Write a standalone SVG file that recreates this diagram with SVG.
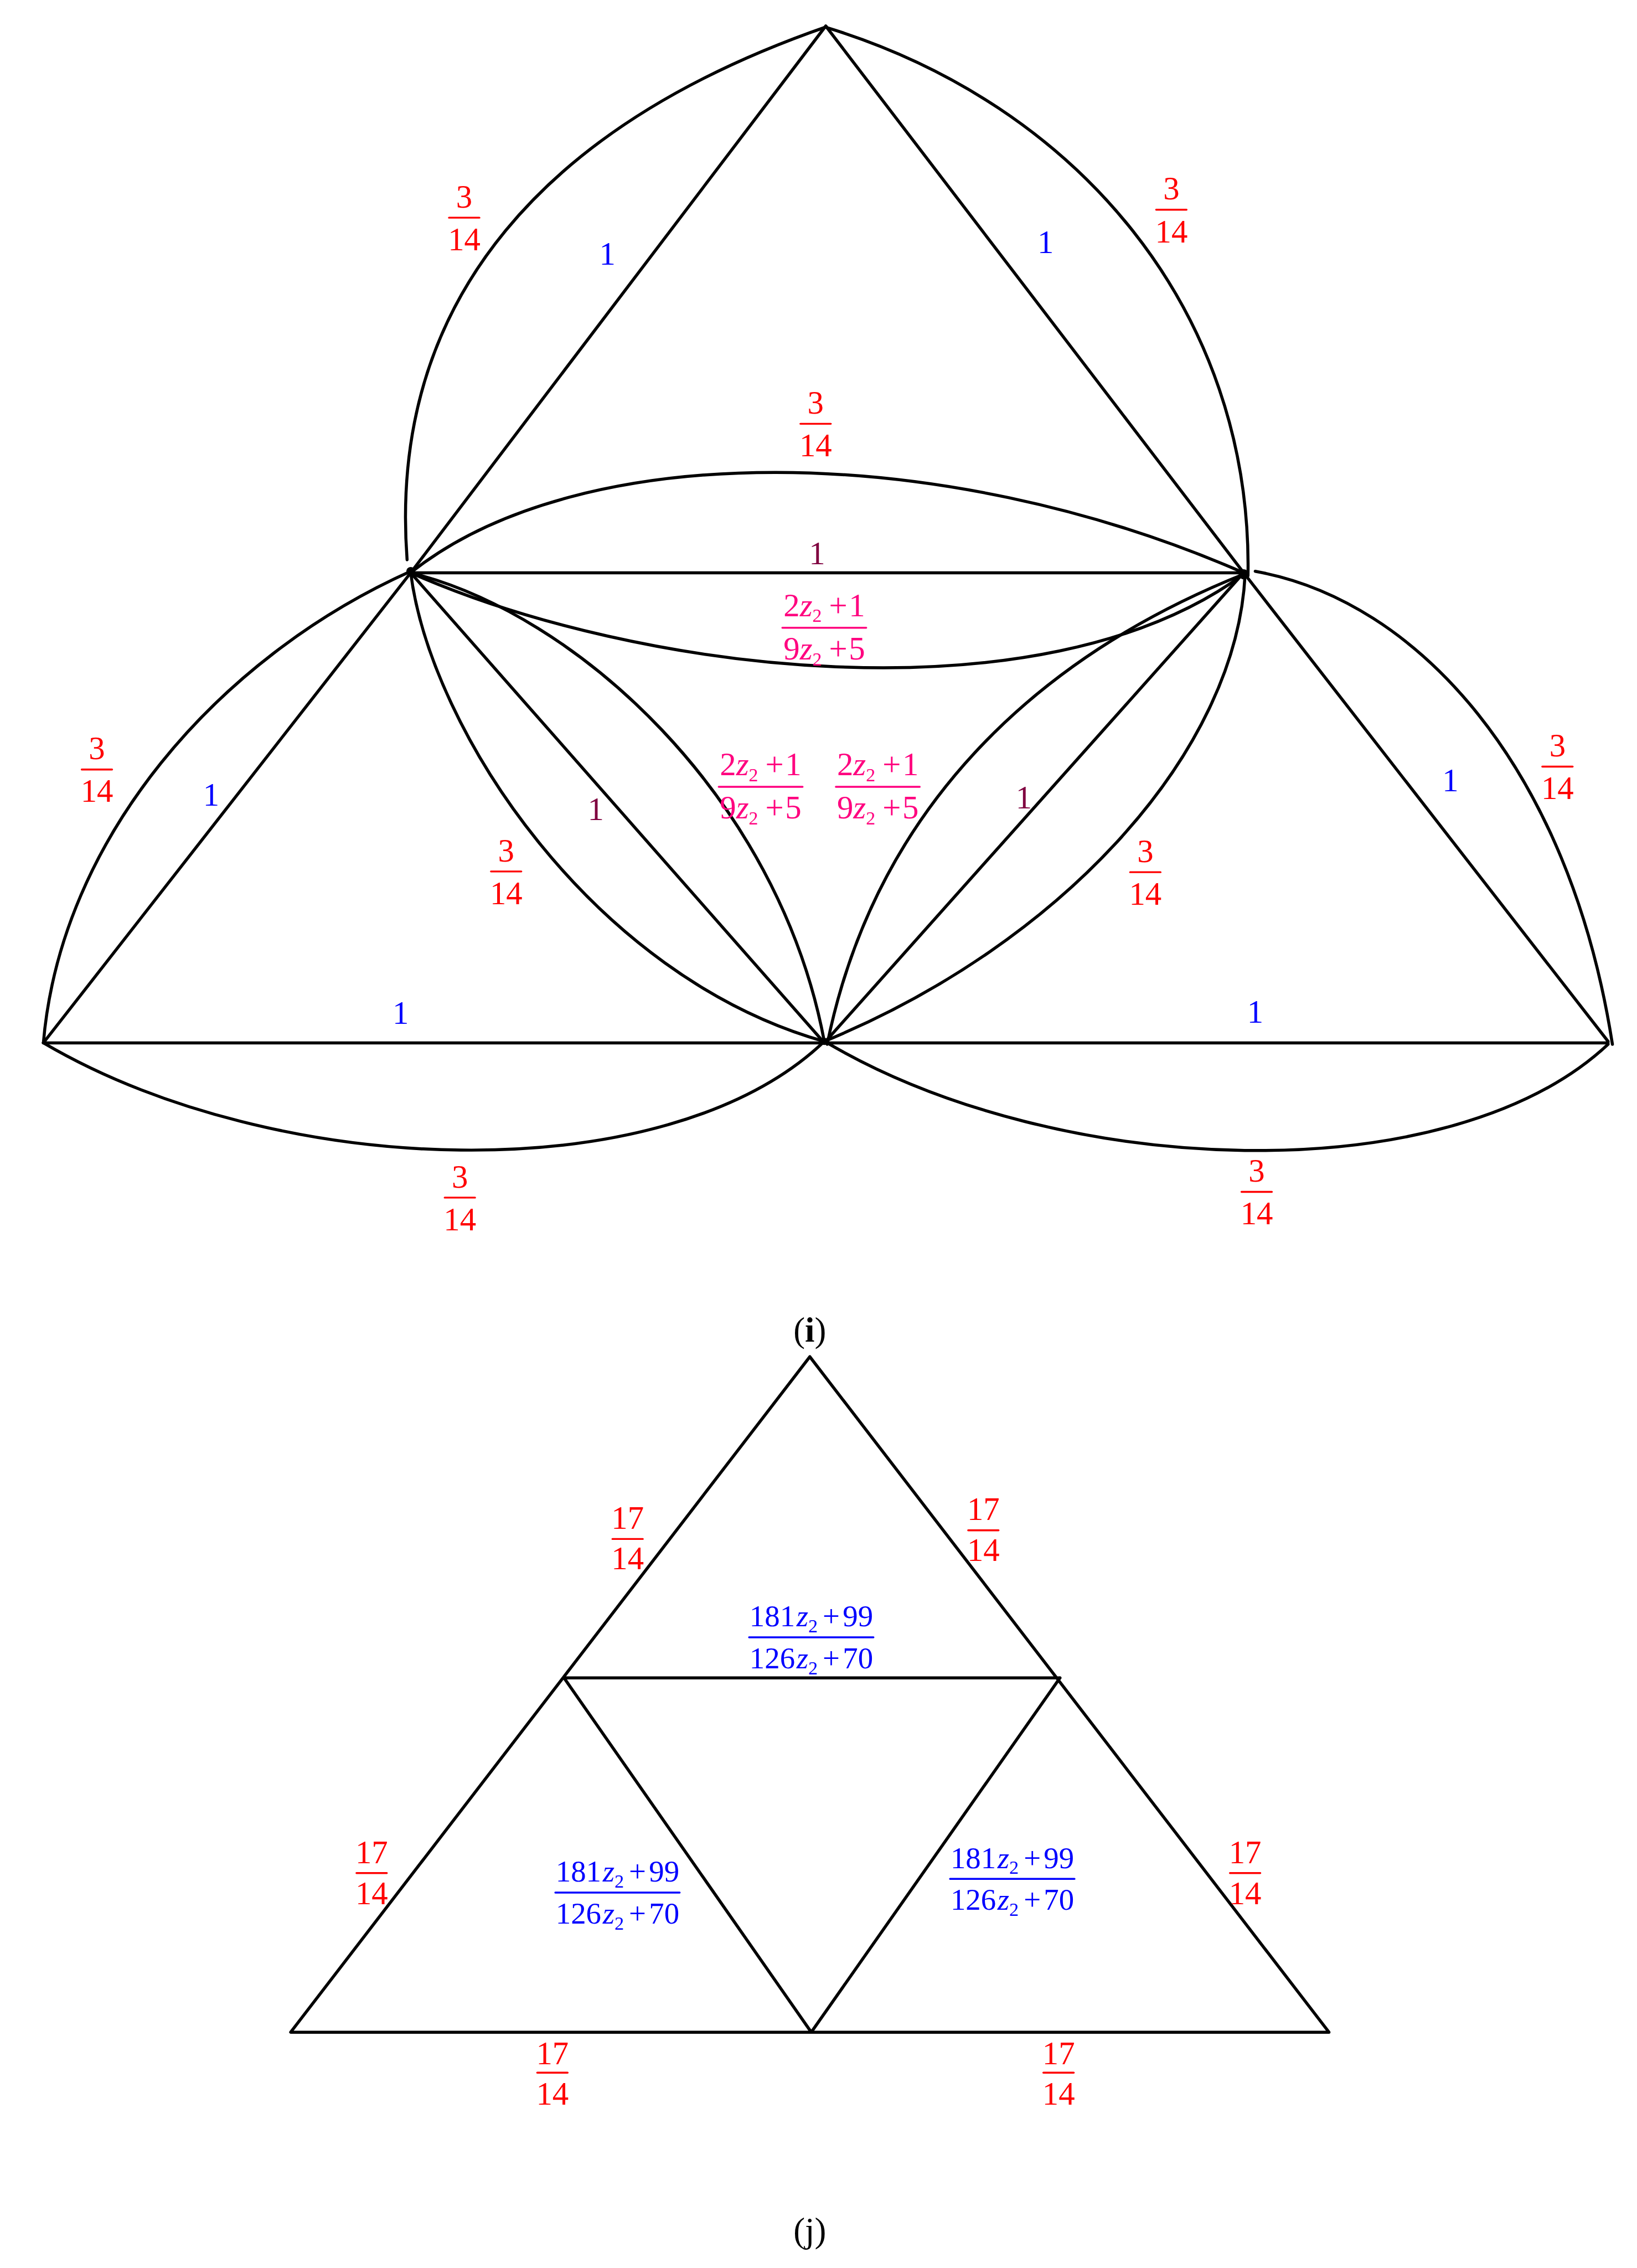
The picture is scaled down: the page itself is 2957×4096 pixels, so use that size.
<svg xmlns="http://www.w3.org/2000/svg" width="2957" height="4096" viewBox="0 0 2957 4096">
<defs><style>
text{font-family:"Liberation Serif","Times New Roman",serif;font-size:22.5px;text-anchor:middle}
.e{fill:none;stroke:#000;stroke-width:2.1;stroke-linecap:round;stroke-linejoin:round}
.r{fill:#f00}.b{fill:#00f;font-size:21px}.o{fill:#00f}.p{fill:#ff007f}.m{fill:#7f003f}.k{fill:#000;font-size:24px}
.rl{stroke:#f00;stroke-width:1.3}.bl{stroke:#00f;stroke-width:1.3}.pl{stroke:#ff007f;stroke-width:1.3}
.i{font-style:italic}.s{font-size:13px}
</style></defs>
<rect width="2957" height="4096" fill="#fff"/>
<g transform="scale(2.6122)">
<g id="connectors">
<g id="edges-i">
<path class="e" d="M571 18L284 396M571 18L860 396M284 396H860M284 396L570 721M860 396L570 721M284 396L30 721M30 721H1112M860 396L1112 720"/>
<path class="e" d="M571.500 18.500C380 85 268 205 281.500 387"/>
<path class="e" d="M571.500 19C745 72 866 215 863 398"/>
<path class="e" d="M284 396C400 303 650 304 860 396"/>
<path class="e" d="M284 396C440 465 720 500 860 397"/>
<path class="e" d="M30 721C42 580 150 455 284 395"/>
<path class="e" d="M284 396C298 505 410 675 570 720"/>
<path class="e" d="M284 396C398 424 538 550 570 720"/>
<path class="e" d="M860 397C715 455 605 560 572 722"/>
<path class="e" d="M861 397C855 520 735 652 570 720"/>
<path class="e" d="M868 395C980 415 1085 530 1115 722"/>
<path class="e" d="M30 721C190 815 460 825 570 720"/>
<path class="e" d="M572 721C732 815 1002 825 1112 722"/>
</g>
<g id="edges-j">
<path class="e" d="M560 938L201 1405H919ZM390 1160H733M390 1160L561 1405L733 1160"/>
</g>
</g>
<g id="vertices">
<circle id="vertex-l" cx="284" cy="395" r="3"/>
<circle id="vertex-r" cx="860" cy="397" r="3.500"/>
<circle id="vertex-c" cx="570" cy="720" r="2.500"/>
</g>
<g id="labels-i">
<g transform="translate(321 150.500)"><text class="r" y="-7">3</text><path class="e rl" d="M-10.500 0H10.500"/><text class="r" y="22.500">14</text></g>
<g transform="translate(810 145)"><text class="r" y="-7">3</text><path class="e rl" d="M-10.500 0H10.500"/><text class="r" y="22.500">14</text></g>
<g transform="translate(564 293)"><text class="r" y="-7">3</text><path class="e rl" d="M-10.500 0H10.500"/><text class="r" y="22.500">14</text></g>
<g transform="translate(67 532)"><text class="r" y="-7">3</text><path class="e rl" d="M-10.500 0H10.500"/><text class="r" y="22.500">14</text></g>
<g transform="translate(350 602.500)"><text class="r" y="-7">3</text><path class="e rl" d="M-10.500 0H10.500"/><text class="r" y="22.500">14</text></g>
<g transform="translate(792 603)"><text class="r" y="-7">3</text><path class="e rl" d="M-10.500 0H10.500"/><text class="r" y="22.500">14</text></g>
<g transform="translate(1077 530)"><text class="r" y="-7">3</text><path class="e rl" d="M-10.500 0H10.500"/><text class="r" y="22.500">14</text></g>
<g transform="translate(318 828)"><text class="r" y="-7">3</text><path class="e rl" d="M-10.500 0H10.500"/><text class="r" y="22.500">14</text></g>
<g transform="translate(869 824)"><text class="r" y="-7">3</text><path class="e rl" d="M-10.500 0H10.500"/><text class="r" y="22.500">14</text></g>
<text class="o" x="420" y="183">1</text>
<text class="o" x="723" y="175">1</text>
<text class="o" x="146" y="557">1</text>
<text class="o" x="1003" y="547">1</text>
<text class="o" x="277" y="708">1</text>
<text class="o" x="868" y="707">1</text>
<text class="m" x="565" y="390">1</text>
<text class="m" x="412" y="567">1</text>
<text class="m" x="708" y="559">1</text>
<g transform="translate(570 434)"><text class="p" y="-8">2<tspan class="i">z</tspan><tspan class="s" dy="4">2</tspan><tspan dx="5" dy="-4">+</tspan><tspan dx="1">1</tspan></text><path class="e pl" d="M-29 0H29"/><text class="p" y="22">9<tspan class="i">z</tspan><tspan class="s" dy="4">2</tspan><tspan dx="5" dy="-4">+</tspan><tspan dx="1">5</tspan></text></g>
<g transform="translate(526 544)"><text class="p" y="-8">2<tspan class="i">z</tspan><tspan class="s" dy="4">2</tspan><tspan dx="5" dy="-4">+</tspan><tspan dx="1">1</tspan></text><path class="e pl" d="M-29 0H29"/><text class="p" y="22">9<tspan class="i">z</tspan><tspan class="s" dy="4">2</tspan><tspan dx="5" dy="-4">+</tspan><tspan dx="1">5</tspan></text></g>
<g transform="translate(607 544)"><text class="p" y="-8">2<tspan class="i">z</tspan><tspan class="s" dy="4">2</tspan><tspan dx="5" dy="-4">+</tspan><tspan dx="1">1</tspan></text><path class="e pl" d="M-29 0H29"/><text class="p" y="22">9<tspan class="i">z</tspan><tspan class="s" dy="4">2</tspan><tspan dx="5" dy="-4">+</tspan><tspan dx="1">5</tspan></text></g>
<text class="k" x="560" y="927.500">(<tspan font-weight="bold">i</tspan>)</text>
</g>
<g id="labels-j">
<g transform="translate(434 1064)"><text class="r" y="-7">17</text><path class="e rl" d="M-10.500 0H10.500"/><text class="r" y="21">14</text></g>
<g transform="translate(680 1058)"><text class="r" y="-7">17</text><path class="e rl" d="M-10.500 0H10.500"/><text class="r" y="21">14</text></g>
<g transform="translate(257 1295)"><text class="r" y="-7">17</text><path class="e rl" d="M-10.500 0H10.500"/><text class="r" y="21.500">14</text></g>
<g transform="translate(861 1295)"><text class="r" y="-7">17</text><path class="e rl" d="M-10.500 0H10.500"/><text class="r" y="21.500">14</text></g>
<g transform="translate(382 1433)"><text class="r" y="-6">17</text><path class="e rl" d="M-10.500 0H10.500"/><text class="r" y="22">14</text></g>
<g transform="translate(732 1433)"><text class="r" y="-6">17</text><path class="e rl" d="M-10.500 0H10.500"/><text class="r" y="22">14</text></g>
<g transform="translate(561 1132)"><text class="b" y="-7.500">181<tspan class="i" dx="1">z</tspan><tspan class="s" dy="4">2</tspan><tspan dx="3.500" dy="-4">+</tspan><tspan dx="2">99</tspan></text><path class="e bl" d="M-43 0H43"/><text class="b" y="21.500">126<tspan class="i" dx="1">z</tspan><tspan class="s" dy="4">2</tspan><tspan dx="3.500" dy="-4">+</tspan><tspan dx="2">70</tspan></text></g>
<g transform="translate(427 1308.500)"><text class="b" y="-7.500">181<tspan class="i" dx="1">z</tspan><tspan class="s" dy="4">2</tspan><tspan dx="3.500" dy="-4">+</tspan><tspan dx="2">99</tspan></text><path class="e bl" d="M-43 0H43"/><text class="b" y="21.500">126<tspan class="i" dx="1">z</tspan><tspan class="s" dy="4">2</tspan><tspan dx="3.500" dy="-4">+</tspan><tspan dx="2">70</tspan></text></g>
<g transform="translate(700 1299)"><text class="b" y="-7.500">181<tspan class="i" dx="1">z</tspan><tspan class="s" dy="4">2</tspan><tspan dx="3.500" dy="-4">+</tspan><tspan dx="2">99</tspan></text><path class="e bl" d="M-43 0H43"/><text class="b" y="21.500">126<tspan class="i" dx="1">z</tspan><tspan class="s" dy="4">2</tspan><tspan dx="3.500" dy="-4">+</tspan><tspan dx="2">70</tspan></text></g>
<text class="k" x="560" y="1550">(j)</text>
</g>
</g>
</svg>
